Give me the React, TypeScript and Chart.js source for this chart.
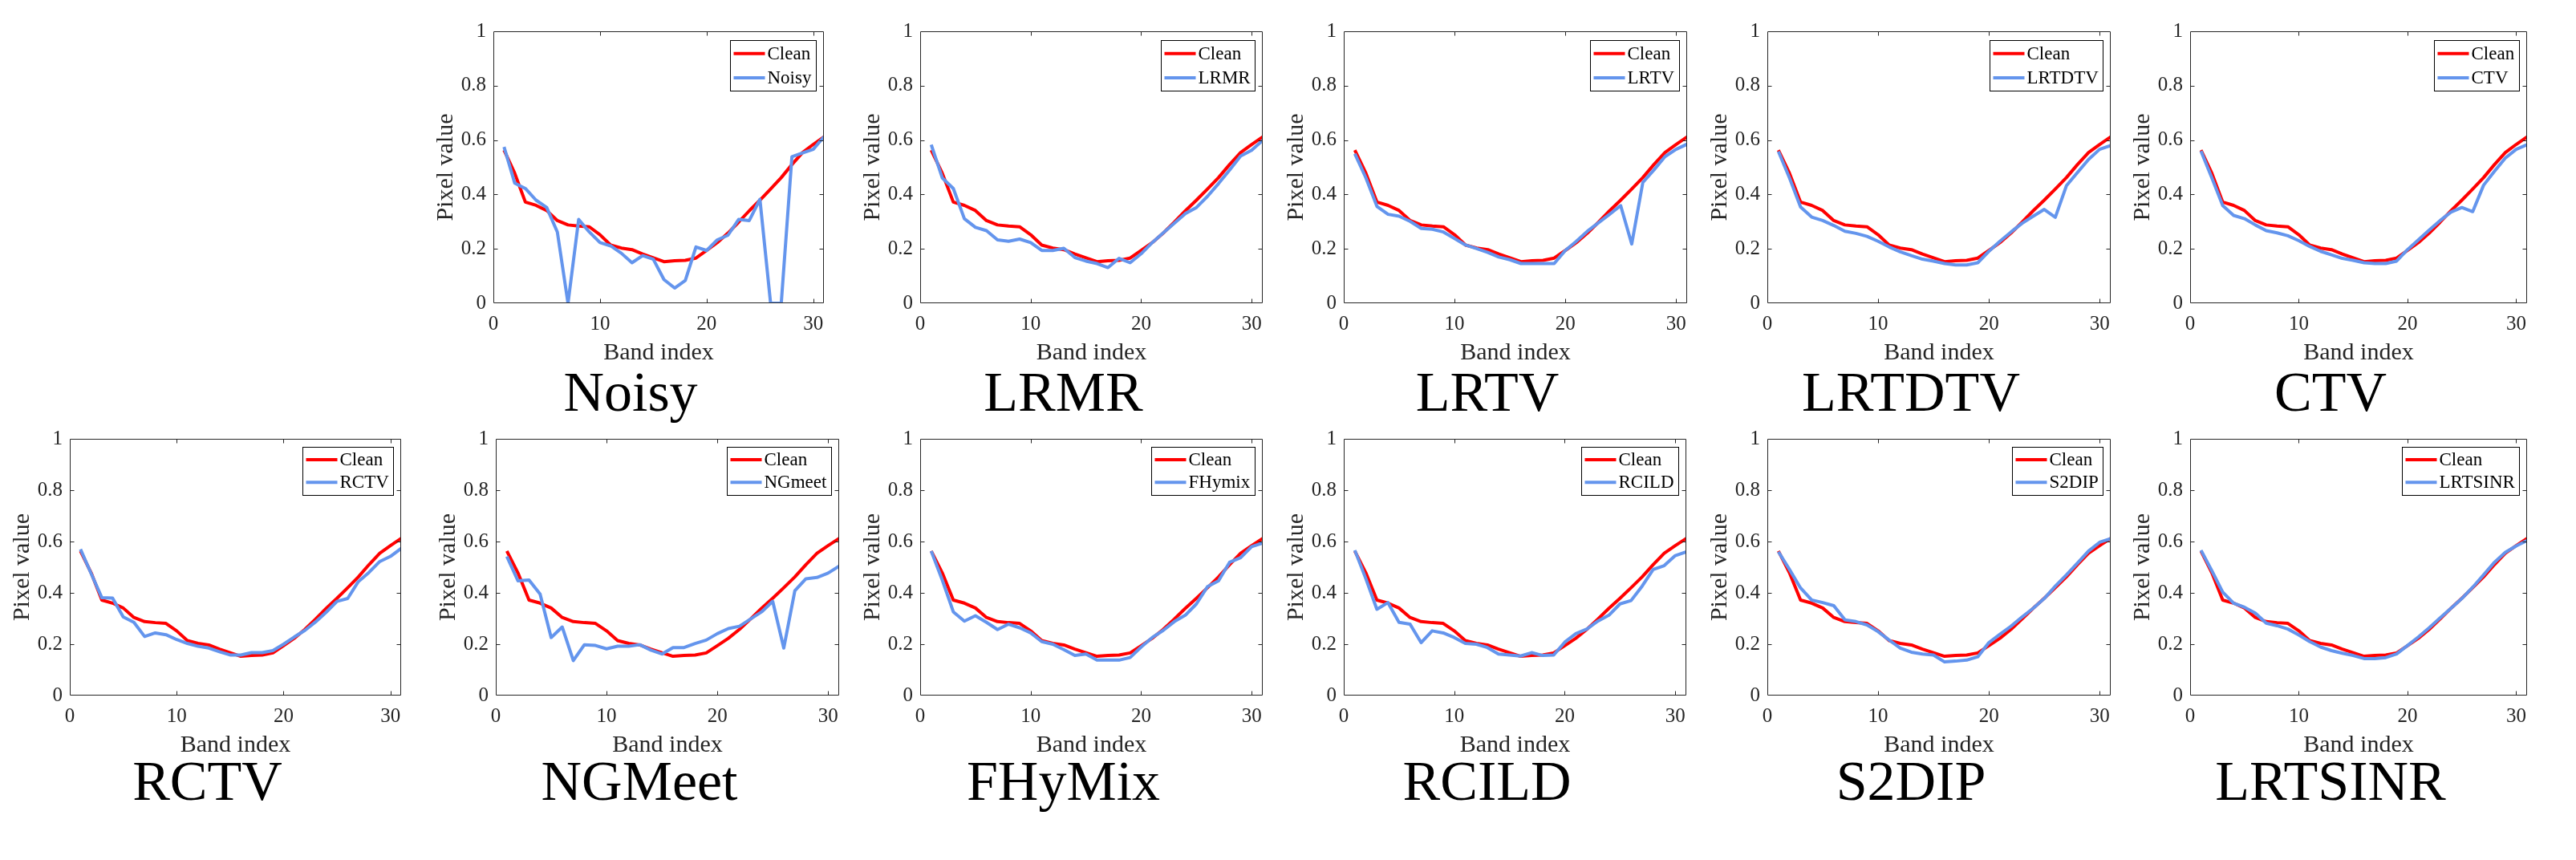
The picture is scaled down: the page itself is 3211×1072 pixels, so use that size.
import React, { useEffect, useRef } from 'react';
import { Chart, registerables } from 'chart.js';

Chart.register(...registerables);

// ---------------- data ----------------
const BANDS = [1, 2, 3, 4, 5, 6, 7, 8, 9, 10, 11, 12, 13, 14, 15, 16, 17, 18, 19, 20, 21, 22, 23, 24, 25, 26, 27, 28, 29, 30, 31];

const CLEAN = [0.563, 0.478, 0.372, 0.360, 0.341, 0.304, 0.288, 0.284, 0.281, 0.252, 0.214, 0.203, 0.197, 0.181, 0.167, 0.153, 0.156, 0.158, 0.166, 0.194, 0.223, 0.258, 0.298, 0.340, 0.379, 0.420, 0.462, 0.510, 0.554, 0.584, 0.612];

const NOISY = [0.575, 0.442, 0.422, 0.379, 0.352, 0.262, 0.000, 0.308, 0.262, 0.223, 0.211, 0.184, 0.149, 0.175, 0.162, 0.087, 0.056, 0.084, 0.207, 0.194, 0.233, 0.250, 0.308, 0.304, 0.382, 0.000, 0.000, 0.539, 0.553, 0.566, 0.612];
const LRMR = [0.583, 0.461, 0.422, 0.311, 0.279, 0.267, 0.233, 0.228, 0.236, 0.223, 0.194, 0.194, 0.202, 0.168, 0.155, 0.146, 0.131, 0.165, 0.149, 0.182, 0.223, 0.259, 0.294, 0.330, 0.352, 0.393, 0.440, 0.490, 0.541, 0.563, 0.599];
const LRTV = [0.550, 0.461, 0.356, 0.327, 0.320, 0.301, 0.275, 0.272, 0.262, 0.238, 0.214, 0.201, 0.187, 0.170, 0.160, 0.146, 0.146, 0.146, 0.146, 0.194, 0.228, 0.265, 0.296, 0.327, 0.359, 0.218, 0.444, 0.490, 0.539, 0.566, 0.585];
const LRTDTV = [0.558, 0.461, 0.354, 0.317, 0.304, 0.286, 0.265, 0.257, 0.246, 0.228, 0.207, 0.189, 0.175, 0.162, 0.155, 0.146, 0.141, 0.141, 0.149, 0.191, 0.228, 0.262, 0.294, 0.320, 0.345, 0.316, 0.432, 0.481, 0.529, 0.566, 0.580];
const CTV = [0.560, 0.461, 0.359, 0.323, 0.311, 0.288, 0.267, 0.259, 0.248, 0.230, 0.209, 0.191, 0.178, 0.165, 0.158, 0.149, 0.146, 0.146, 0.155, 0.197, 0.233, 0.269, 0.304, 0.335, 0.352, 0.337, 0.434, 0.485, 0.534, 0.566, 0.583];
const RCTV = [0.570, 0.475, 0.381, 0.380, 0.306, 0.285, 0.230, 0.244, 0.237, 0.218, 0.203, 0.192, 0.185, 0.171, 0.158, 0.158, 0.167, 0.167, 0.175, 0.200, 0.228, 0.254, 0.287, 0.325, 0.367, 0.378, 0.444, 0.480, 0.522, 0.542, 0.573];
const NGMEET = [0.542, 0.447, 0.450, 0.395, 0.226, 0.267, 0.136, 0.198, 0.195, 0.182, 0.192, 0.192, 0.198, 0.177, 0.162, 0.187, 0.187, 0.203, 0.216, 0.241, 0.261, 0.270, 0.298, 0.326, 0.367, 0.185, 0.408, 0.455, 0.460, 0.477, 0.504];
const FHYMIX = [0.563, 0.450, 0.326, 0.290, 0.311, 0.285, 0.257, 0.278, 0.264, 0.244, 0.210, 0.200, 0.179, 0.156, 0.162, 0.138, 0.138, 0.138, 0.148, 0.189, 0.226, 0.254, 0.288, 0.313, 0.357, 0.424, 0.447, 0.519, 0.537, 0.580, 0.594];
const RCILD = [0.566, 0.455, 0.336, 0.362, 0.285, 0.278, 0.206, 0.252, 0.244, 0.226, 0.203, 0.200, 0.187, 0.162, 0.158, 0.154, 0.167, 0.156, 0.158, 0.208, 0.241, 0.259, 0.290, 0.313, 0.357, 0.370, 0.426, 0.491, 0.506, 0.545, 0.560];
const S2DIP = [0.560, 0.491, 0.419, 0.372, 0.362, 0.350, 0.295, 0.288, 0.275, 0.249, 0.216, 0.185, 0.169, 0.162, 0.158, 0.131, 0.134, 0.138, 0.151, 0.206, 0.239, 0.270, 0.306, 0.340, 0.378, 0.426, 0.470, 0.516, 0.563, 0.597, 0.611];
const LRTSINR = [0.566, 0.486, 0.403, 0.360, 0.344, 0.321, 0.282, 0.272, 0.259, 0.236, 0.210, 0.189, 0.175, 0.165, 0.156, 0.144, 0.144, 0.148, 0.162, 0.195, 0.228, 0.264, 0.302, 0.340, 0.378, 0.422, 0.470, 0.519, 0.558, 0.583, 0.604];

const SERIES = [NOISY, LRMR, LRTV, LRTDTV, CTV, RCTV, NGMEET, FHYMIX, RCILD, S2DIP, LRTSINR];
const TITLES = ['Noisy', 'LRMR', 'LRTV', 'LRTDTV', 'CTV', 'RCTV', 'NGMeet', 'FHyMix', 'RCILD', 'S2DIP', 'LRTSINR'];
const LEGEND_LABELS = ['Noisy', 'LRMR', 'LRTV', 'LRTDTV', 'CTV', 'RCTV', 'NGmeet', 'FHymix', 'RCILD', 'S2DIP', 'LRTSINR'];
const CLEAN_LABEL = 'Clean';

const X_TICKS = [0, 10, 20, 30];
const X_TICK_LABELS = ['0', '10', '20', '30'];
const Y_TICKS = [0, 0.2, 0.4, 0.6, 0.8, 1];
const Y_TICK_LABELS = ['0', '0.2', '0.4', '0.6', '0.8', '1'];
const X_MIN = 0;
const X_MAX = 31;
const Y_MIN = 0;
const Y_MAX = 1;
const X_TITLE = 'Band index';
const Y_TITLE = 'Pixel value';

// ---------------- layout / style ----------------
const LAYOUT = [
  { left: 615, top: 35, w: 412, h: 343 },
  { left: 1147, top: 35, w: 427, h: 343 },
  { left: 1675, top: 35, w: 428, h: 343 },
  { left: 2203, top: 35, w: 428, h: 343 },
  { left: 2730, top: 35, w: 420, h: 343 },
  { left: 87, top: 543, w: 413, h: 324 },
  { left: 618, top: 543, w: 428, h: 324 },
  { left: 1147, top: 543, w: 427, h: 324 },
  { left: 1675, top: 543, w: 427, h: 324 },
  { left: 2203, top: 543, w: 428, h: 324 },
  { left: 2730, top: 543, w: 420, h: 324 },
];

const FAMILY = "'Liberation Serif', 'Times New Roman', serif";
const AXIS_COLOR = '#262626';
const RED = '#FF0000';
const BLUE = '#6495ED';
const AX_L = 95;
const AX_B = 95;
const PAD_T = 20;
const PAD_R = 20;

const framePlugin = {
  id: 'matlabFrame',
  afterDatasetsDraw(chart: any) {
    const { ctx, chartArea: ca, scales } = chart;
    ctx.save();
    ctx.strokeStyle = AXIS_COLOR;
    ctx.lineWidth = 1;
    ctx.beginPath();
    const L = Math.round(ca.left) + 0.5;
    const R = Math.round(ca.right) - 0.5;
    const T = Math.round(ca.top) + 0.5;
    const B = Math.round(ca.bottom) - 0.5;
    ctx.rect(L, T, R - L, B - T);
    const tl = 5;
    for (const t of scales.x.ticks) {
      const px = Math.round(scales.x.getPixelForValue(t.value)) + 0.5;
      if (px <= L + 1 || px >= R - 1) continue;
      ctx.moveTo(px, B); ctx.lineTo(px, B - tl);
      ctx.moveTo(px, T); ctx.lineTo(px, T + tl);
    }
    for (const t of scales.y.ticks) {
      const py = Math.round(scales.y.getPixelForValue(t.value)) + 0.5;
      if (py <= T + 1 || py >= B - 1) continue;
      ctx.moveTo(L, py); ctx.lineTo(L + tl, py);
      ctx.moveTo(R, py); ctx.lineTo(R - tl, py);
    }
    ctx.stroke();
    ctx.restore();
  },
};

const legendPlugin = {
  id: 'boxLegend',
  afterDraw(chart: any) {
    const { ctx, chartArea: ca } = chart;
    const f = (ca.bottom - ca.top) / 343;
    ctx.save();
    ctx.font = `23px ${FAMILY}`;
    const items = chart.data.datasets.map((d: any) => ({ label: d.label, color: d.borderColor }));
    const tw = Math.max(...items.map((it: any) => ctx.measureText(it.label).width));
    const bw = Math.round(46 + tw + 6);
    const bh = Math.round(64 * f);
    const bx = Math.round(ca.right - 10 - bw) + 0.5;
    const by = Math.round(ca.top + 11 * f) + 0.5;
    ctx.fillStyle = '#FFFFFF';
    ctx.fillRect(bx, by, bw, bh);
    ctx.strokeStyle = '#000000';
    ctx.lineWidth = 1;
    ctx.strokeRect(bx, by, bw, bh);
    const rows = [16.5 * f, 47 * f];
    items.forEach((it: any, i: number) => {
      const y = by + rows[i];
      ctx.strokeStyle = it.color;
      ctx.lineWidth = 4;
      ctx.beginPath();
      ctx.moveTo(bx + 4, y);
      ctx.lineTo(bx + 43, y);
      ctx.stroke();
      ctx.fillStyle = '#000000';
      ctx.textBaseline = 'middle';
      ctx.textAlign = 'left';
      ctx.fillText(it.label, bx + 46, y + 1);
    });
    ctx.restore();
  },
};

function Panel({ idx }: { idx: number }) {
  const ref = useRef<HTMLCanvasElement>(null);
  const L = LAYOUT[idx];
  const cw = AX_L + L.w + PAD_R;
  const ch = PAD_T + L.h + AX_B;

  useEffect(() => {
    const tickFont = { family: FAMILY, size: 25 };
    const titleFont = { family: FAMILY, size: 30 };
    const chart = new Chart(ref.current as HTMLCanvasElement, {
      type: 'line',
      data: {
        datasets: [
          {
            label: CLEAN_LABEL,
            data: BANDS.map((b, i) => ({ x: b, y: CLEAN[i] })),
            borderColor: RED,
            backgroundColor: RED,
            borderWidth: 4,
            pointRadius: 0,
            tension: 0,
            borderJoinStyle: 'round',
            order: 1,
          },
          {
            label: LEGEND_LABELS[idx],
            data: BANDS.map((b, i) => ({ x: b, y: SERIES[idx][i] })),
            borderColor: BLUE,
            backgroundColor: BLUE,
            borderWidth: 4,
            pointRadius: 0,
            tension: 0,
            borderJoinStyle: 'round',
            order: 0,
          },
        ],
      },
      options: {
        animation: false,
        responsive: false,
        maintainAspectRatio: false,
        devicePixelRatio: 1,
        layout: { padding: { left: 0, top: PAD_T, right: PAD_R, bottom: 0 } },
        plugins: { legend: { display: false }, tooltip: { enabled: false }, title: { display: false } },
        scales: {
          x: {
            type: 'linear',
            min: X_MIN,
            max: X_MAX,
            grid: { display: false, drawTicks: false },
            border: { display: false },
            afterBuildTicks: (s: any) => { s.ticks = X_TICKS.map((v) => ({ value: v })); },
            afterFit: (s: any) => { s.height = AX_B; },
            ticks: {
              padding: 11,
              font: tickFont,
              color: AXIS_COLOR,
              maxRotation: 0,
              autoSkip: false,
              callback: (_v: any, i: number) => X_TICK_LABELS[i],
            },
            title: { display: true, text: X_TITLE, font: titleFont, color: AXIS_COLOR, padding: { top: 0, bottom: 15 } },
          },
          y: {
            type: 'linear',
            min: Y_MIN,
            max: Y_MAX,
            grid: { display: false, drawTicks: false },
            border: { display: false },
            afterBuildTicks: (s: any) => { s.ticks = Y_TICKS.map((v) => ({ value: v })); },
            afterFit: (s: any) => { s.width = AX_L; },
            ticks: {
              padding: 9,
              font: tickFont,
              color: AXIS_COLOR,
              autoSkip: false,
              callback: (_v: any, i: number) => Y_TICK_LABELS[i],
            },
            title: { display: true, text: Y_TITLE, font: titleFont, color: AXIS_COLOR, padding: { top: 18, bottom: 0 } },
          },
        },
      } as any,
      plugins: [framePlugin, legendPlugin],
    });
    return () => chart.destroy();
  }, [idx]);

  const titleCx = L.left + L.w / 2 - 35;
  const baseline = L.top + L.h + (idx < 5 ? 135 : 131);

  return (
    <>
      <canvas
        ref={ref}
        width={cw}
        height={ch}
        style={{ position: 'absolute', left: L.left - AX_L, top: L.top - PAD_T, width: cw, height: ch }}
      />
      <div
        style={{
          position: 'absolute',
          left: titleCx - 300,
          width: 600,
          top: baseline - 58.6,
          textAlign: 'center',
          fontFamily: FAMILY,
          fontSize: 70,
          lineHeight: '70px',
          color: '#000000',
          whiteSpace: 'nowrap',
        }}
      >
        {TITLES[idx]}
      </div>
    </>
  );
}

export default function App() {
  return (
    <div style={{ position: 'absolute', left: 0, top: 0, width: 3211, height: 1072, background: '#FFFFFF', overflow: 'hidden' }}>
      {LAYOUT.map((_, i) => (
        <Panel key={i} idx={i} />
      ))}
    </div>
  );
}
